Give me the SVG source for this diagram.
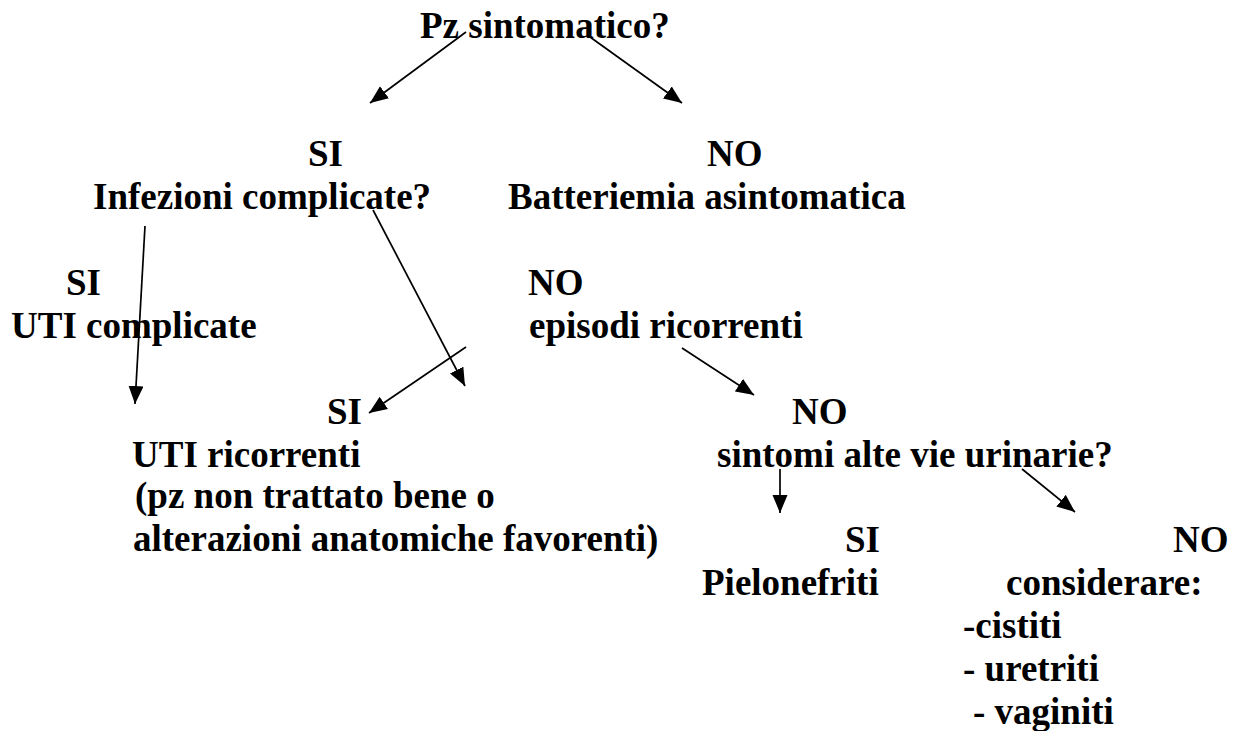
<svg xmlns="http://www.w3.org/2000/svg" width="1235" height="731" viewBox="0 0 1235 731">
<style>
text{font-family:"Liberation Serif","Times New Roman",serif;font-weight:bold;font-size:37px;fill:#000}
.c line{stroke:#000;stroke-width:1.7;marker-end:url(#ah)}
</style>
<defs>
<marker id="ah" markerUnits="userSpaceOnUse" markerWidth="20" markerHeight="16" refX="18" refY="7.5" orient="auto"><path d="M0,0 L18,7.5 L0,15 z" fill="#000"/></marker>
</defs>
<rect width="1235" height="731" fill="#fff"/>
<g id="n1"><text x="420" y="38">Pz sintomatico?</text></g>
<g id="n2"><text x="308" y="166">SI</text><text x="93" y="209">Infezioni complicate?</text></g>
<g id="n3"><text x="707" y="166">NO</text><text x="508" y="209">Batteriemia asintomatica</text></g>
<g id="n4"><text x="66" y="295">SI</text><text x="11" y="338">UTI complicate</text></g>
<g id="n5"><text x="528" y="295">NO</text><text x="529" y="338">episodi ricorrenti</text></g>
<g id="n6"><text x="327" y="424">SI</text><text x="132" y="467">UTI ricorrenti</text><text x="135" y="508">(pz non trattato bene o</text><text x="133" y="551">alterazioni anatomiche favorenti)</text></g>
<g id="n7"><text x="792" y="424">NO</text><text x="717" y="467">sintomi alte vie urinarie?</text></g>
<g id="n8"><text x="845" y="552">SI</text><text x="702" y="595">Pielonefriti</text></g>
<g id="n9"><text x="1173" y="552">NO</text><text x="1006" y="595">considerare:</text><text x="963" y="638">-cistiti</text><text x="963" y="681">- uretriti</text><text x="973" y="724">- vaginiti</text></g>
<g class="c" id="connectors">
<line x1="466" y1="32" x2="370" y2="103"/>
<line x1="590" y1="37" x2="682" y2="103"/>
<line x1="145" y1="226" x2="135" y2="404"/>
<line x1="373" y1="210" x2="465" y2="386"/>
<line x1="466" y1="347" x2="369" y2="413"/>
<line x1="682" y1="348" x2="754" y2="395"/>
<line x1="780" y1="469" x2="780" y2="513"/>
<line x1="1022" y1="469" x2="1075" y2="512"/>
</g>
</svg>
